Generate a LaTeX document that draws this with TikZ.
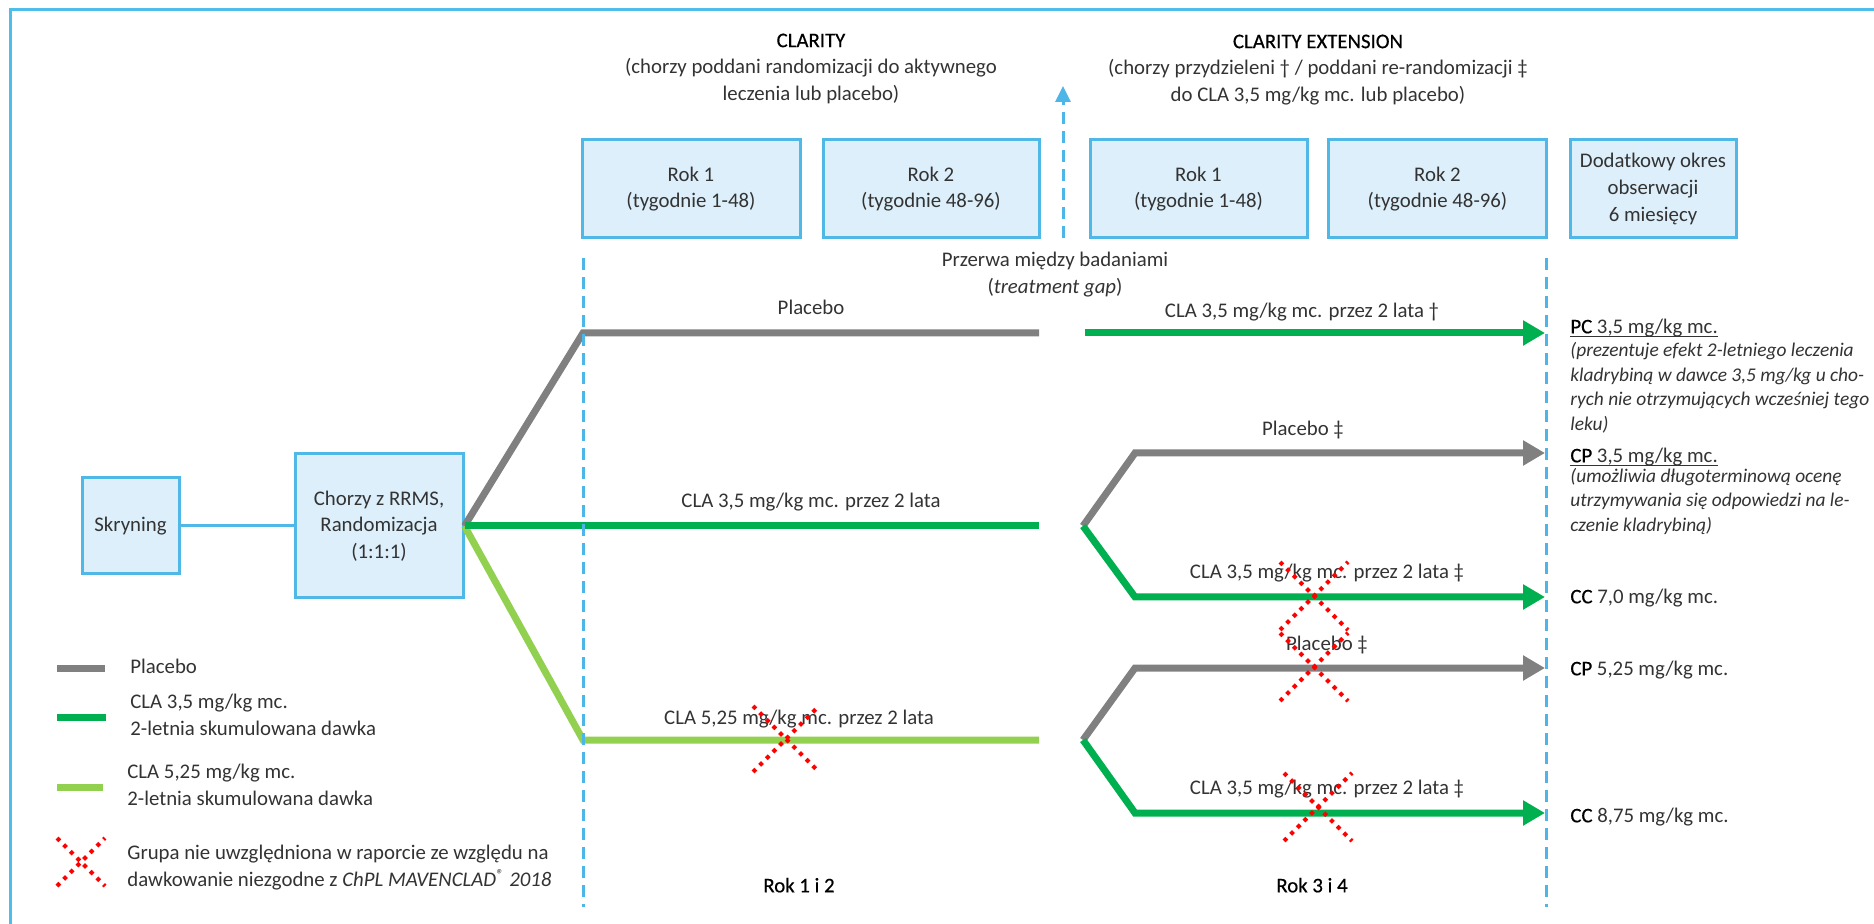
\documentclass[tikz,border=0pt]{standalone}
\usepackage{fontspec}
\setmainfont{Carlito}
\newfontfamily\heavyfont{Carlito}[FakeBold=0.5]
\usetikzlibrary{arrows.meta}

\definecolor{boxfill}{HTML}{DCEFFA}
\definecolor{boxline}{HTML}{4FB8E7}
\definecolor{framec}{HTML}{4FBDEB}
\definecolor{dashc}{HTML}{4DB6E8}
\definecolor{placeboc}{HTML}{808080}
\definecolor{clac}{HTML}{00B050}
\definecolor{clahic}{HTML}{92D050}
\definecolor{txtc}{HTML}{333333}

\newcommand\mainsize{\fontsize{10.4pt}{13.3pt}\selectfont}
\newcommand\notesize{\fontsize{9.7pt}{12.3pt}\selectfont}
% underline at a fixed distance below the baseline
\newcommand\ulfixed[1]{\setbox0\hbox{#1}\rlap{\rule[-1.7pt]{\wd0}{0.55pt}}\box0}
% darker, heavier words
\newcommand\strongw[1]{{\heavyfont\color{black}#1}}

\tikzset{
  stepbox/.style={draw=boxline, fill=boxfill, line width=1.5pt, inner sep=2pt,
    text=txtc, font=\mainsize, align=center, minimum height=49pt},
  lbl/.style={inner sep=0pt, text=txtc, font=\mainsize, align=center,
    execute at begin node=\strut, execute at end node=\strut},
  lbll/.style={lbl, align=left, anchor=west},
  note/.style={inner sep=0pt, text=txtc, font=\notesize\itshape, align=left, anchor=west,
    execute at begin node=\strut, execute at end node=\strut},
  link/.style={draw=boxline, line width=1.5pt},
  plc/.style={draw=placeboc, line width=3.5pt},
  clas/.style={draw=clac, line width=3.5pt},
  clah/.style={draw=clahic, line width=3.5pt},
  tip/.style={-{Triangle[length=11pt,width=12pt]}},
  vdash/.style={draw=dashc, line width=1.5pt, dash pattern=on 6pt off 3.5pt},
  xdots/.style={draw=red, line width=2pt, dash pattern=on 2pt off 2.7pt},
  pics/redx/.style={code={
    \draw[xdots] (-#1,-#1) -- (#1,#1);
    \draw[xdots] (-#1,#1) -- (#1,-#1);}},
}

\begin{document}
\begin{tikzpicture}[x=0.5pt,y=-0.5pt]
\useasboundingbox (0,0) rectangle (1874,924);
\fill[white] (0,0) rectangle (1874,924);
\clip (0,0) rectangle (1874,924);

% outer frame
\draw[framec, line width=1.5pt] (10,924) -- (10,10) -- (1874,10);

% study titles
\node[lbl] (clar) at (811,71) {\strongw{CLARITY}\\(chorzy poddani randomizacji do aktywnego\\leczenia lub placebo)};
\node[lbl] (clarx) at (1318,72) {\strongw{CLARITY EXTENSION}\\(chorzy przydzieleni † / poddani re-randomizacji ‡\\do CLA 3,5 mg/kg mc. lub placebo)};

% period boxes
\node[stepbox, minimum width=109pt] (y1a) at (691,189) {Rok 1\\(tygodnie 1-48)};
\node[stepbox, minimum width=108pt] (y2a) at (931,189) {Rok 2\\(tygodnie 48-96)};
\node[stepbox, minimum width=108.5pt] (y1b) at (1198.5,189) {Rok 1\\(tygodnie 1-48)};
\node[stepbox, minimum width=109pt] (y2b) at (1437.5,189) {Rok 2\\(tygodnie 48-96)};
\node[stepbox, minimum width=83pt] (fup) at (1653,189) {Dodatkowy okres\\obserwacji\\6 miesięcy};

% screening and randomisation
\node[stepbox, minimum width=48.5pt, minimum height=48pt] (scr) at (130.5,526) {Skryning};
\node[stepbox, minimum width=84pt, minimum height=72pt] (rnd) at (379,526) {Chorzy z RRMS,\\Randomizacja\\(1:1:1)};
\draw[link] (scr) -- (rnd);

% bend and end points of the treatment arms
\coordinate (pk) at (583,333);  \coordinate (pe) at (1039,333);
\coordinate (ce) at (1039,526);
\coordinate (hk) at (583,740);  \coordinate (he) at (1039,740);
\coordinate (xs) at (1085,333); \coordinate (xt) at (1545,333);
\coordinate (s1) at (1083,526);
\coordinate (s1p) at (1135,453); \coordinate (t1p) at (1545,453);
\coordinate (s1c) at (1135,597); \coordinate (t1c) at (1545,597);
\coordinate (s2) at (1083,740);
\coordinate (s2p) at (1135,668); \coordinate (t2p) at (1545,668);
\coordinate (s2c) at (1135,813); \coordinate (t2c) at (1545,813);

% CLARITY arms
\draw[plc] (rnd.east) -- (pk) -- (pe);
\draw[clah] (rnd.east) -- (hk) -- (he);
\draw[clas] (rnd.east) -- (ce);

% CLARITY EXTENSION arms
\draw[clas, tip] (xs) -- (xt);
\draw[plc, tip] (s1) -- (s1p) -- (t1p);
\draw[clas, tip] (s1) -- (s1c) -- (t1c);
\draw[plc, tip] (s2) -- (s2p) -- (t2p);
\draw[clas, tip] (s2) -- (s2c) -- (t2c);

% period borders and treatment gap marker
\coordinate (da) at (583,258);  \coordinate (db) at (583,907);
\coordinate (dc) at (1546,258); \coordinate (dd) at (1546,907);
\coordinate (ga) at (1063,238); \coordinate (gb) at (1063,86);
\draw[vdash] (da) -- (db);
\draw[vdash] (dc) -- (dd);
\draw[vdash, -{Triangle[length=8pt,width=7.5pt]}] (ga) -- (gb);

\node[lbl] (gap) at (1055,276.5) {Przerwa między badaniami\\(\textit{treatment gap})};

% arm labels
\node[lbl] (l1) at (811,309) {Placebo};
\node[lbl] (l2) at (811,502) {CLA 3,5 mg/kg mc. przez 2 lata};
\node[lbl] (l3) at (799,719) {CLA 5,25 mg/kg mc. przez 2 lata};
\node[lbl] (l4) at (1302,312) {CLA 3,5 mg/kg mc. przez 2 lata †};
\node[lbl] (l5) at (1303,430) {Placebo ‡};
\node[lbl] (l6) at (1327,573) {CLA 3,5 mg/kg mc. przez 2 lata ‡};
\node[lbl] (l7) at (1327,645) {Placebo ‡};
\node[lbl] (l8) at (1327,789) {CLA 3,5 mg/kg mc. przez 2 lata ‡};

% excluded groups
\pic at (786,739) {redx=33};
\pic at (1314,596) {redx=34};
\pic at (1314,667) {redx=34};
\pic at (1318,807) {redx=34};

% outcome groups
\node[lbll] (pc) at (1570,328) {\ulfixed{\strongw{PC} 3,5 mg/kg mc.}};
\node[note] (pcn) at (1570,390) {(prezentuje efekt 2-letniego leczenia\\kladrybiną w dawce 3,5 mg/kg u cho-\\rych nie otrzymujących wcześniej tego\\leku)};
\node[lbll] (cp) at (1570,457) {\ulfixed{\strongw{CP} 3,5 mg/kg mc.}};
\node[note] (cpn) at (1570,503.5) {(umożliwia długoterminową ocenę\\utrzymywania się odpowiedzi na le-\\czenie kladrybiną)};
\node[lbll] (cc1) at (1570,598) {\strongw{CC} 7,0 mg/kg mc.};
\node[lbll] (cp2) at (1570,670) {\strongw{CP} 5,25 mg/kg mc.};
\node[lbll] (cc2) at (1570,817) {\strongw{CC} 8,75 mg/kg mc.};

% period captions
\node[lbl] (r12) at (799,887) {\strongw{Rok 1 i 2}};
\node[lbl] (r34) at (1312,887) {\strongw{Rok 3 i 4}};

% legend
\coordinate (k1a) at (57,668); \coordinate (k1b) at (105,668);
\coordinate (k2a) at (57,717); \coordinate (k2b) at (106,717);
\coordinate (k3a) at (57,787); \coordinate (k3b) at (103,787);
\draw[plc] (k1a) -- (k1b);
\draw[clas] (k2a) -- (k2b);
\draw[clah] (k3a) -- (k3b);
\pic at (81,862) {redx=24};
\node[lbll] (k1) at (130,668) {Placebo};
\node[lbll] (k2) at (130,719) {CLA 3,5 mg/kg mc.\\2-letnia skumulowana dawka};
\node[lbll] (k3) at (127,789) {CLA 5,25 mg/kg mc.\\2-letnia skumulowana dawka};
\node[lbll] (k4) at (127,870) {Grupa nie uwzględniona w raporcie ze względu na\\dawkowanie niezgodne z \textit{ChPL MAVENCLAD\textsuperscript{\textregistered} 2018}};
\end{tikzpicture}
\end{document}
